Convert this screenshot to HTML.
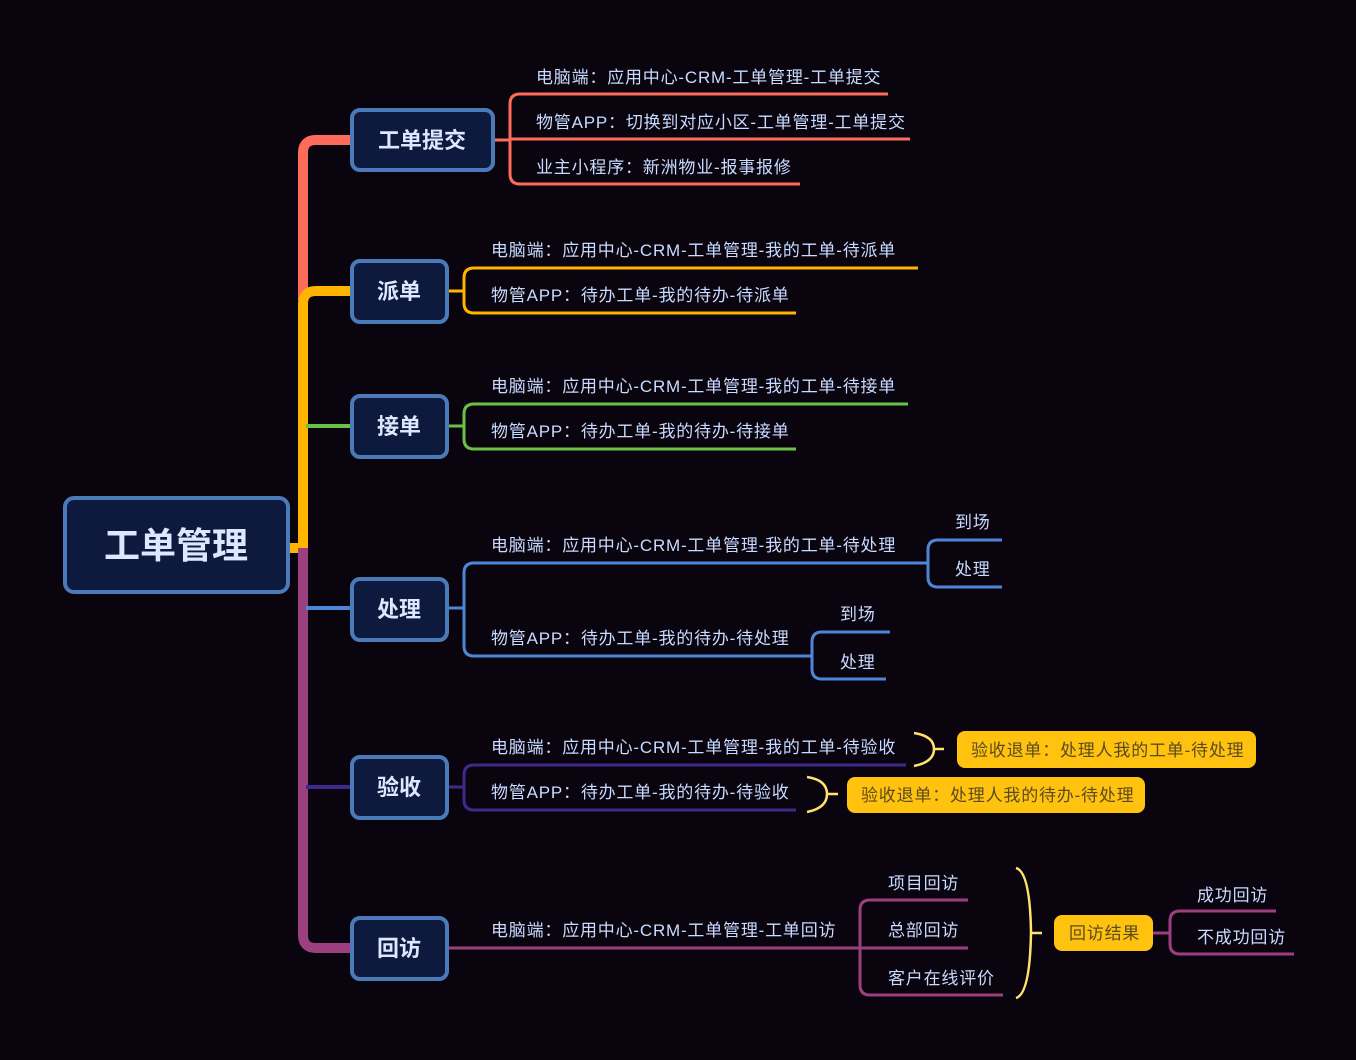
<!DOCTYPE html>
<html><head><meta charset="utf-8"><style>
html,body{margin:0;padding:0;background:#0a040f;}
svg{display:block;}
text{font-family:"Liberation Sans","Noto Sans CJK SC",sans-serif;}
.t{fill:#c8dcff;font-size:17px;letter-spacing:0.8px;}
.n{fill:#dbe8ff;font-size:22px;font-weight:bold;text-anchor:middle;}
.y{fill:#5b4a22;font-size:17px;letter-spacing:0.8px;}
</style></head><body>
<svg width="1356" height="1060" viewBox="0 0 1356 1060">
<rect width="1356" height="1060" fill="#0a040f"/>
<g fill="none" stroke-linecap="butt">
<path d="M352,140 H316 Q303,140 303,153 V300" stroke="#ff6b5b" stroke-width="10"/>
<path d="M352,291 H316 Q303,291 303,304 V548 H290" stroke="#ffb400" stroke-width="10"/>
<path d="M303,548 V935 Q303,948 316,948 H352" stroke="#9c3f7e" stroke-width="10"/>
<path d="M306,426 H352" stroke="#6ac045" stroke-width="4"/>
<path d="M306,608 H352" stroke="#4d86d6" stroke-width="4"/>
<path d="M306,787 H352" stroke="#3f2a8c" stroke-width="4"/>
<g stroke="#ff6b5b" stroke-width="3">
<path d="M493,140 H510"/>
<path d="M888,94 H520 Q510,94 510,104 V174 Q510,184 520,184 H800"/>
<path d="M510,139 H910"/>
</g>
<g stroke="#ffb400" stroke-width="3">
<path d="M447,291 H464"/>
<path d="M918,268 H474 Q464,268 464,278 V303 Q464,313 474,313 H796"/>
</g>
<g stroke="#6ac045" stroke-width="3">
<path d="M447,426 H464"/>
<path d="M908,404 H474 Q464,404 464,414 V439 Q464,449 474,449 H796"/>
</g>
<g stroke="#4d86d6" stroke-width="3">
<path d="M447,608 H464"/>
<path d="M928,563 H474 Q464,563 464,573 V646 Q464,656 474,656 H812"/>
<path d="M1002,540 H938 Q928,540 928,550 V577 Q928,587 938,587 H1002"/>
<path d="M890,632 H822 Q812,632 812,642 V669 Q812,679 822,679 H886"/>
</g>
<g stroke="#3f2a8c" stroke-width="3">
<path d="M447,787 H464"/>
<path d="M906,765 H474 Q464,765 464,775 V800 Q464,810 474,810 H796"/>
</g>
<g stroke="#9c3f7e" stroke-width="3">
<path d="M447,948 H860"/>
<path d="M968,900 H870 Q860,900 860,910 V985 Q860,995 870,995 H1003"/>
<path d="M860,948 H968"/>
<path d="M1153,933 H1170"/>
<path d="M1276,911 H1180 Q1170,911 1170,921 V944 Q1170,954 1180,954 H1294"/>
</g>
<g stroke="#ffe36b" stroke-width="2.5">
<path d="M914,733 Q934,736 934,749 Q934,762 914,766 M934,749 H944"/>
<path d="M807,777 Q827,780 827,794 Q827,808 807,812 M827,794 H838"/>
<path d="M1016,868 Q1030,872 1031,932 Q1030,994 1016,998 M1031,933 H1042"/>
</g>
</g>
<g fill="#0d1a3d" stroke="#4a7ab8" stroke-width="4">
<rect x="65" y="498" width="223" height="94" rx="9"/>
<rect x="352" y="110" width="141" height="60" rx="8"/>
<rect x="352" y="261" width="95" height="61" rx="8"/>
<rect x="352" y="396" width="95" height="61" rx="8"/>
<rect x="352" y="579" width="95" height="61" rx="8"/>
<rect x="352" y="757" width="95" height="61" rx="8"/>
<rect x="352" y="918" width="95" height="61" rx="8"/>
</g>
<text x="176" y="558" class="n" style="font-size:36px">工单管理</text>
<text x="422" y="148" class="n">工单提交</text>
<text x="399" y="299" class="n">派单</text>
<text x="399" y="434" class="n">接单</text>
<text x="399" y="617" class="n">处理</text>
<text x="399" y="795" class="n">验收</text>
<text x="399" y="956" class="n">回访</text>
<text x="536" y="83" class="t">电脑端：应用中心-CRM-工单管理-工单提交</text>
<text x="536" y="128" class="t">物管APP：切换到对应小区-工单管理-工单提交</text>
<text x="536" y="173" class="t">业主小程序：新洲物业-报事报修</text>
<text x="491" y="256" class="t">电脑端：应用中心-CRM-工单管理-我的工单-待派单</text>
<text x="491" y="301" class="t">物管APP：待办工单-我的待办-待派单</text>
<text x="491" y="392" class="t">电脑端：应用中心-CRM-工单管理-我的工单-待接单</text>
<text x="491" y="437" class="t">物管APP：待办工单-我的待办-待接单</text>
<text x="491" y="551" class="t">电脑端：应用中心-CRM-工单管理-我的工单-待处理</text>
<text x="491" y="644" class="t">物管APP：待办工单-我的待办-待处理</text>
<text x="955" y="528" class="t">到场</text>
<text x="955" y="575" class="t">处理</text>
<text x="840" y="620" class="t">到场</text>
<text x="840" y="668" class="t">处理</text>
<text x="491" y="753" class="t">电脑端：应用中心-CRM-工单管理-我的工单-待验收</text>
<text x="491" y="798" class="t">物管APP：待办工单-我的待办-待验收</text>
<rect x="957" y="731" width="299" height="37" rx="8" fill="#ffc20e"/>
<text x="971" y="756" class="y">验收退单：处理人我的工单-待处理</text>
<rect x="847" y="777" width="298" height="36" rx="8" fill="#ffc20e"/>
<text x="861" y="801" class="y">验收退单：处理人我的待办-待处理</text>
<text x="491" y="936" class="t">电脑端：应用中心-CRM-工单管理-工单回访</text>
<text x="888" y="889" class="t">项目回访</text>
<text x="888" y="936" class="t">总部回访</text>
<text x="888" y="984" class="t">客户在线评价</text>
<rect x="1054" y="915" width="99" height="36" rx="8" fill="#ffc20e"/>
<text x="1069" y="939" class="y">回访结果</text>
<text x="1197" y="901" class="t">成功回访</text>
<text x="1197" y="943" class="t">不成功回访</text>
</svg>
</body></html>
